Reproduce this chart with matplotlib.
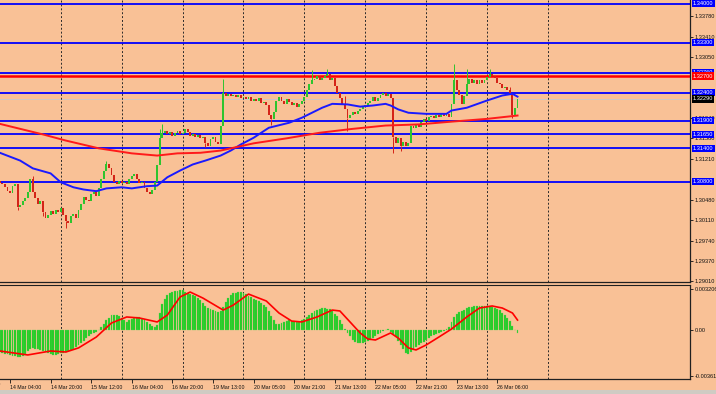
import numpy as np
import matplotlib
matplotlib.use('Agg')
import matplotlib.pyplot as plt
from matplotlib.transforms import blended_transform_factory
from matplotlib.patches import Rectangle

plt.rcParams['font.family'] = ['Liberation Sans', 'DejaVu Sans']

# ---- data (hourly bars, open = previous close) ----
first_open = 1.3082
closes = [
    1.3078, 1.3075, 1.3070, 1.3064, 1.3060, 1.3072, 1.3075, 1.3035, 1.3038, 1.3045,
    1.3050, 1.3062, 1.3085, 1.3062, 1.3050, 1.3040, 1.3045, 1.3025, 1.3015, 1.3020,
    1.3028, 1.3022, 1.3030, 1.3025, 1.3032, 1.3020, 1.3010, 1.3005, 1.3018, 1.3022,
    1.3015, 1.3030, 1.3040, 1.3052, 1.3048, 1.3045, 1.3058, 1.3062, 1.3055, 1.3068,
    1.3085, 1.3100, 1.3112, 1.3105, 1.3092, 1.3080, 1.3075, 1.3082, 1.3078, 1.3080,
    1.3076, 1.3085, 1.3090, 1.3094, 1.3085, 1.3078, 1.3080, 1.3068, 1.3062, 1.3058,
    1.3065, 1.3080, 1.3110, 1.3158, 1.3168, 1.3172, 1.3165, 1.3170, 1.3163, 1.3168,
    1.3172, 1.3165, 1.3168, 1.3175, 1.3170, 1.3162, 1.3166, 1.3160, 1.3164, 1.3158,
    1.3160, 1.3150, 1.3145, 1.3156, 1.3160, 1.3152, 1.3148, 1.3180, 1.3240, 1.3235,
    1.3238, 1.3234, 1.3236, 1.3232, 1.3236, 1.3230, 1.3232, 1.3228, 1.3232, 1.3225,
    1.3229, 1.3226, 1.3230, 1.3222, 1.3224, 1.3218, 1.3200, 1.3192, 1.3205, 1.3225,
    1.3232, 1.3225, 1.3220, 1.3228, 1.3224, 1.3218, 1.3222, 1.3215, 1.3220, 1.3225,
    1.3232, 1.3245, 1.3255, 1.3262, 1.3265, 1.3270, 1.3262, 1.3266, 1.3270, 1.3274,
    1.3262, 1.3266, 1.3252, 1.3240, 1.3230, 1.3218, 1.3210, 1.3195, 1.3200, 1.3205,
    1.3202, 1.3208, 1.3210, 1.3214, 1.3218, 1.3222, 1.3226, 1.3232, 1.3225, 1.3230,
    1.3236, 1.3240, 1.3234, 1.3238, 1.3230, 1.3160, 1.3150, 1.3158, 1.3145, 1.3152,
    1.3145, 1.3150, 1.3180, 1.3176, 1.3183, 1.3178, 1.3188, 1.3193, 1.3190, 1.3196,
    1.3198, 1.3195, 1.3200, 1.3197, 1.3202, 1.3198, 1.3202, 1.3196, 1.3220, 1.3262,
    1.3245, 1.3236, 1.3220, 1.3235, 1.3255, 1.3265, 1.3258, 1.3262, 1.3256, 1.3262,
    1.3258, 1.3262, 1.3268, 1.3274, 1.3270, 1.3266, 1.3258, 1.3255, 1.3248, 1.3250,
    1.3244, 1.3240, 1.3200, 1.3212, 1.3229,
]
wick_high = {13: 1.3090, 42: 1.3118, 63: 1.3175, 64: 1.3184, 88: 1.3265, 123: 1.3280,
             129: 1.3283, 136: 1.3235, 179: 1.3292, 184: 1.3282, 193: 1.3283, 201: 1.3250}
wick_low = {7: 1.3030, 17: 1.3018, 26: 1.2997, 81: 1.3143, 107: 1.3182, 137: 1.3172,
            155: 1.3132, 158: 1.3135, 202: 1.3194}

# moving averages (bar index, price)
ma_fast_idx = [0, 8, 13, 20, 24, 29, 33, 38, 42, 48, 52, 58, 62, 66, 71, 76, 81, 87, 91,
               95, 100, 106, 114, 119, 123, 127, 131, 137, 142, 147, 152, 154, 157, 161,
               168, 176, 178, 184, 192, 198, 202, 204]
ma_fast = [1.3132, 1.3118, 1.3104, 1.3095, 1.3079, 1.3070, 1.3066, 1.3063, 1.3068, 1.3070,
           1.3068, 1.3072, 1.3073, 1.3088, 1.3100, 1.3111, 1.3118, 1.3127, 1.3136, 1.3147,
           1.3159, 1.3177, 1.3186, 1.3195, 1.3204, 1.3213, 1.3220, 1.3219, 1.3215, 1.3217,
           1.3220, 1.3217, 1.3210, 1.3204, 1.3202, 1.3202, 1.3208, 1.3213, 1.3226, 1.3235,
           1.3238, 1.3233]
ma_slow_idx = [0, 17, 26, 39, 52, 62, 70, 79, 87, 100, 113, 126, 139, 152, 165, 178, 192, 204]
ma_slow = [1.3184, 1.3165, 1.3154, 1.3140, 1.3131, 1.3127, 1.3131, 1.3132, 1.3136, 1.3149,
           1.3158, 1.3168, 1.3175, 1.3181, 1.3183, 1.3188, 1.3193, 1.3199]

# MACD histogram, in units of 1e-4
macd_hist = [
    -17, -18, -18.5, -19, -19.5, -20, -20.5, -21, -21, -20,
    -18.5, -16.5, -15, -14, -14.5, -15, -15.6, -16.5, -17.5, -18.3,
    -18.8, -19.2, -19.5, -19, -18.3, -17.8, -17.2, -16.5, -15.5, -14.5,
    -13.5, -12, -10.5, -8.5, -6.5, -4.5, -3.5, -2.5, -1.5, 0.3,
    2, 4.5, 7.5, 9.5, 11.5, 12, 11.7, 10.8, 9.4, 7.8,
    6.3, 7.5, 8.6, 9.4, 10, 10.2, 9, 7.5, 6.3, 4.5,
    2.8, 2.5, 4, 13, 20, 24, 27, 29, 29.8, 30.3,
    30.7, 31.1, 31.3, 29.7, 29, 28, 27.4, 26.3, 25, 23.8,
    21.5, 19, 17.5, 16.4, 15.6, 14.8, 13.8, 14.5, 18, 22,
    25, 27.5, 28.9, 29.3, 29.7, 29.4, 28.7, 27.8, 26.5, 25.6,
    24.6, 23.5, 22.3, 21, 19.5, 18.3, 15, 11, 8, 4.5,
    4.5, 5.8, 6.5, 7.3, 7.8, 7.3, 6.8, 6.5, 6.3, 7.5,
    9, 10.5, 11.7, 13, 14.5, 15.6, 16.4, 17.2, 17.2, 16.8,
    16.4, 14.5, 12.8, 11, 8, 5, 0.5, -2.3, -5, -7.8,
    -9, -10.2, -10.2, -9.8, -9.4, -8.8, -7.5, -6, -4.5, -3.3,
    -2, -0.8, 0.3, 0.5, -1.2, -3.5, -5.5, -8.5, -12, -15,
    -18.3, -18.8, -17.5, -16, -13.5, -12, -10.5, -9, -7.5, -6,
    -4.5, -3.8, -3, -2, -1.2, -0.5, 0.8, 2.3, 6, 10.5,
    12.5, 14, 15, 16, 17, 18, 18.3, 18.5, 18.8, 18.8,
    18.8, 18.8, 18.8, 18.8, 18.3, 17.5, 16.8, 15.5, 13.3, 11.5,
    9.5, 7, 3.5, 0, -2.3,
]
signal_idx = [0, 11, 20, 26, 31, 38, 44, 50, 55, 62, 66, 71, 75, 80, 88, 92, 98, 105, 110,
              115, 119, 125, 131, 134, 138, 142, 145, 148, 154, 157, 161, 164, 168, 173,
              178, 184, 189, 194, 198, 202, 204]
signal = [-16.4, -19.5, -16.4, -17.2, -14, -5.5, 5.5, 10.2, 9.4, 6.3, 11.7, 25.8, 29.7, 25,
          15.6, 19.5, 28.1, 22.7, 13.3, 7, 6.3, 10.2, 15.6, 14.9, 6.3, -2.3, -7, -7.8, -2.3,
          -6.3, -14, -15.6, -11.7, -5.5, 0.8, 10.2, 17.2, 18.8, 17.2, 13.3, 7.8]

blue_levels = [1.3400, 1.3330, 1.3276, 1.3240, 1.3190, 1.3165, 1.3140, 1.3080]
red_level = 1.3270
bid = 1.3229
# scale labels that are not hidden under the level boxes
price_ticks = [1.33780, 1.33410, 1.33050, 1.31940, 1.31580, 1.31210,
               1.30480, 1.30110, 1.29740, 1.29370, 1.29010]
osc_ticks = [0.003206, 0.0, -0.00361]
osc_tick_labels = ['0.003206', '0.00', '-0.00361']
time_labels = ['13 Mar 12:00', '14 Mar 04:00', '14 Mar 20:00', '15 Mar 12:00',
               '16 Mar 04:00', '16 Mar 20:00', '19 Mar 13:00', '20 Mar 05:00',
               '20 Mar 21:00', '21 Mar 13:00', '22 Mar 05:00', '22 Mar 21:00',
               '23 Mar 13:00', '26 Mar 06:00']

# ---- style ----
BG = '#f9c196'
UP = '#2ec42e'
DOWN = '#d42418'
W, H = 716, 394
FS = 4.1

fig = plt.figure(figsize=(W / 100, H / 100), dpi=100, facecolor=BG)
ax = fig.add_axes([0, (H - 282) / H, 690 / W, 282 / H], facecolor=BG)
ax2 = fig.add_axes([0, (H - 379) / H, 690 / W, 94 / H], facecolor=BG, sharex=ax)

closes = np.array(closes)
opens = np.r_[first_open, closes[:-1]]
idx = np.arange(len(closes))

# candles
body = closes - opens
body = np.where(np.abs(body) < 0.00003, 0.00003, body)
up = closes >= opens
ax.bar(idx[up], body[up], bottom=opens[up], width=0.75, color=UP, linewidth=0, zorder=3)
ax.bar(idx[~up], body[~up], bottom=opens[~up], width=0.75, color=DOWN, linewidth=0, zorder=3)
for i, hi in wick_high.items():
    ax.vlines(i, max(opens[i], closes[i]), hi, color=UP if up[i] else DOWN, lw=0.7, zorder=3)
for i, lo in wick_low.items():
    ax.vlines(i, lo, min(opens[i], closes[i]), color=UP if up[i] else DOWN, lw=0.7, zorder=3)

ax.plot(ma_fast_idx, ma_fast, color='#1a1aff', lw=1.4, zorder=4)
ax.plot(ma_slow_idx, ma_slow, color='#ff1a1a', lw=1.4, zorder=4)

for lv in blue_levels:
    ax.axhline(lv, color='#0000ff', lw=1.3, zorder=2)
ax.axhline(red_level, color='#ff0000', lw=1.8, zorder=2)
ax.axhline(bid, color='#c8c8c8', lw=0.6, zorder=1)

# oscillator
hist = np.array(macd_hist) * 1e-4
ax2.bar(idx, hist, width=0.75, color='#22cc22', edgecolor='#5fd35f', linewidth=0.2, zorder=3)
ax2.plot(signal_idx, np.array(signal) * 1e-4, color='#ff0000', lw=1.2, zorder=4)

# dotted grid (every 24 bars)
for g in range(24, 230, 24):
    for a in (ax, ax2):
        a.axvline(g, color='#2a2a2a', lw=0.7, ls=(0, (2, 2)), zorder=1)

for a in (ax, ax2):
    for s in ('left', 'top'):
        a.spines[s].set_visible(False)
    for s in ('right', 'bottom'):
        a.spines[s].set_color('#202020')
        a.spines[s].set_linewidth(0.9)
    a.yaxis.tick_right()
    a.tick_params(axis='y', length=2, width=0.6, pad=1.5, labelsize=FS, colors='#111111')
ax2.spines['top'].set_visible(True)
ax2.spines['top'].set_color('#202020')

ax.tick_params(axis='x', bottom=False, labelbottom=False)

time_pos = [4 + 16 * k for k in range(-1, len(time_labels) - 1)]
ax2.set_xticks(time_pos[1:])
ax2.set_xticklabels(time_labels[1:])
ax2.tick_params(axis='x', length=3, width=0.6, pad=1.5, labelsize=FS - 0.3, colors='#111111')
for t in ax2.get_xticklabels():
    t.set_ha('left')

# limits last, so the ticks do not widen them
ax.set_xlim(0.06, 271.97)
ax.set_ylim(1.28997, 1.34067)
ax2.set_ylim(-0.00383, 0.00352)

# first time label sits left of the window, only its tail shows
x0_fig = fig.transFigure.inverted().transform(ax2.transData.transform((time_pos[0], 0)))[0]
lab0 = ax2.get_xticklabels()[0]
fig.text(x0_fig, (H - 381.5) / H, time_labels[0], fontsize=FS - 0.3, color='#111111',
         ha='left', va='top')

ax.set_yticks(price_ticks)
ax.set_yticklabels([f'{p:.5f}' for p in price_ticks])
ax2.set_yticks(osc_ticks)
ax2.set_yticklabels(osc_tick_labels)

# price boxes on the scale
tr = blended_transform_factory(ax.transAxes, ax.transData)
def box(price, text, fc):
    ax.text(1.004, price, text, transform=tr, fontsize=FS, color='white', va='center',
            ha='left', clip_on=False, zorder=10,
            bbox=dict(boxstyle='square,pad=0.22', fc=fc, ec='none'))

for lv in blue_levels:
    box(lv, f'{lv:.5f}', '#0000ff')
box(red_level, f'{red_level:.5f}', '#ff0000')
box(bid, f'{bid:.5f}', '#000000')

fig.patches.append(Rectangle((0, 0), 1, 4 / H, transform=fig.transFigure,
                             facecolor='#cfcbc3', edgecolor='none'))

fig.savefig('out.png', dpi=100, facecolor=BG)
